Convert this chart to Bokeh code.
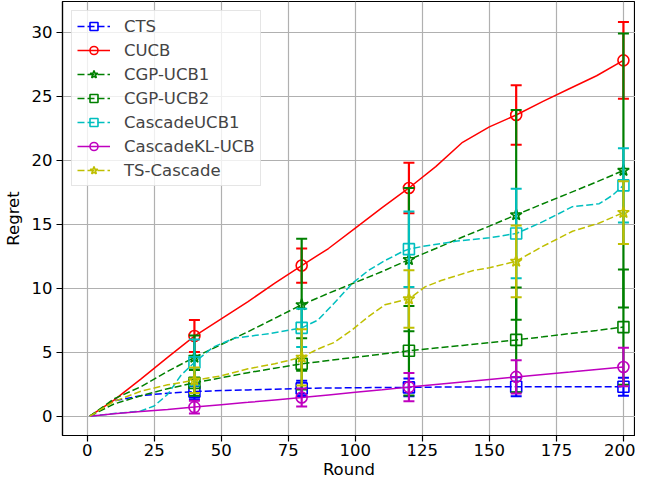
import numpy as np
from bokeh.plotting import figure
from bokeh.models import Range1d, FixedTicker
from bokeh.embed import file_html
from bokeh.resources import INLINE

# ---- data ----
rounds = [1, 10, 20, 30, 40, 50, 60, 70, 80, 90, 100, 110, 120, 130, 140, 150, 160, 170, 180, 190, 200]
cts_vals = [0, 1.2, 1.6, 1.8, 1.92, 2.0, 2.05, 2.1, 2.17, 2.2, 2.22, 2.24, 2.25, 2.27, 2.28, 2.29, 2.3, 2.3, 2.3, 2.3, 2.3]
cucb_vals = [0, 1.25, 2.9, 4.6, 6.26, 7.6, 8.95, 10.4, 11.77, 13.1, 14.7, 16.3, 17.83, 19.5, 21.4, 22.6, 23.53, 24.6, 25.6, 26.6, 27.8]
cgp1_vals = [0, 1.35, 2.3, 3.5, 4.6, 5.6, 6.6, 7.65, 8.7, 9.6, 10.45, 11.3, 12.23, 13.1, 14.0, 14.85, 15.73, 16.6, 17.45, 18.3, 19.2]
cgp2_vals = [0, 0.95, 1.6, 2.15, 2.6, 3.0, 3.4, 3.75, 4.09, 4.35, 4.6, 4.85, 5.11, 5.32, 5.53, 5.75, 5.96, 6.2, 6.45, 6.7, 6.96]
kl_vals = [0, 0.18, 0.36, 0.53, 0.71, 0.9, 1.08, 1.27, 1.46, 1.66, 1.86, 2.06, 2.27, 2.47, 2.67, 2.87, 3.07, 3.26, 3.45, 3.65, 3.84]

cucb1_rounds = [1, 10, 20, 25, 30, 35, 40, 47, 55, 68, 80, 86, 92, 99, 105, 111, 118, 120, 126, 138, 150, 160, 169, 181, 191, 196, 200]
cucb1_vals = [0, 0.2, 0.4, 0.8, 1.7, 3.2, 4.2, 5.4, 6.1, 6.45, 6.9, 7.5, 8.8, 10.4, 11.4, 12.15, 12.9, 13.05, 13.3, 13.68, 13.94, 14.27, 15.1, 16.37, 16.6, 17.27, 18.03]

ts_rounds = [1, 10, 20, 30, 40, 50, 60, 70, 80, 86, 92, 99, 105, 111, 118, 120, 126, 132, 144, 150, 160, 169, 181, 191, 200]
ts_vals = [0, 1.15, 1.95, 2.45, 2.81, 3.15, 3.7, 4.1, 4.6, 5.24, 5.75, 6.78, 7.8, 8.7, 9.08, 9.16, 10.1, 10.6, 11.38, 11.6, 12.1, 13.17, 14.45, 15.09, 15.91]

mark_rounds = [40, 80, 120, 160, 200]
cts_err = [0.6, 0.6, 0.7, 0.75, 0.7]
cucb_err = [1.25, 1.34, 1.98, 2.33, 3.0]
cgp1_err = [1.7, 5.16, 5.6, 8.2, 10.7]
cgp2_err = [1.0, 2.0, 3.5, 4.1, 4.5]
cucb1_err = [1.8, 1.5, 2.95, 3.5, 2.9]
kl_err = [0.5, 0.7, 1.1, 1.3, 1.5]
ts_err = [1.0, 2.2, 2.25, 2.8, 2.45]

x_ticks = [0, 25, 50, 75, 100, 125, 150, 175, 200]
y_ticks = [0, 5, 10, 15, 20, 25, 30]

series = [
    ("CTS", rounds, cts_vals, cts_err, "#0000ff", "square", "7 3"),
    ("CUCB", rounds, cucb_vals, cucb_err, "#ff0000", "circle", "solid"),
    ("CGP-UCB1", rounds, cgp1_vals, cgp1_err, "#008000", "star", "7 3"),
    ("CGP-UCB2", rounds, cgp2_vals, cgp2_err, "#008000", "square", "7 3"),
    ("CascadeUCB1", cucb1_rounds, cucb1_vals, cucb1_err, "#00bfbf", "square", "7 3"),
    ("CascadeKL-UCB", rounds, kl_vals, kl_err, "#bf00bf", "circle", "solid"),
    ("TS-Cascade", ts_rounds, ts_vals, ts_err, "#bfbf00", "star", "7 3"),
]

FONT = "DejaVu Sans"
FS = "16.5px"

p = figure(width=635, height=481, output_backend="svg", toolbar_location=None,
           x_range=Range1d(-9.2, 204.5), y_range=Range1d(-1.51, 32.4),
           min_border_left=57, min_border_right=0, min_border_top=1, min_border_bottom=44)

p.background_fill_color = "white"
p.outline_line_color = "black"
p.outline_line_width = 1.2

for name, xs, ys, err, color, marker, dash in series:
    p.line(xs, ys, line_color=color, line_width=1.5, line_dash=dash, legend_label=name)
    my = np.interp(mark_rounds, xs, ys)
    lo = [m - e for m, e in zip(my, err)]
    hi = [m + e for m, e in zip(my, err)]
    p.segment(x0=mark_rounds, y0=lo, x1=mark_rounds, y1=hi, line_color=color, line_width=2.2)
    p.scatter(mark_rounds, lo, marker="dash", size=11, line_color=color, line_width=2)
    p.scatter(mark_rounds, hi, marker="dash", size=11, line_color=color, line_width=2)
    p.scatter(mark_rounds, list(my), marker=marker, size=11 if marker != "star" else 12,
              line_color=color, fill_color=None, line_width=1.6, legend_label=name)

for ax in (p.xaxis, p.yaxis):
    ax.major_tick_out = 6
    ax.major_tick_in = 0
    ax.minor_tick_out = 0
    ax.minor_tick_in = 0
    ax.axis_line_color = "black"
    ax.axis_line_width = 1.2
    ax.major_tick_line_color = "black"
    ax.major_tick_line_width = 1.2
    ax.major_label_text_font = FONT
    ax.major_label_text_font_size = FS
    ax.major_label_text_color = "black"
    ax.axis_label_text_font = FONT
    ax.axis_label_text_font_size = FS
    ax.axis_label_text_font_style = "normal"
    ax.axis_label_text_color = "black"

p.xaxis.ticker = FixedTicker(ticks=x_ticks)
p.yaxis.ticker = FixedTicker(ticks=y_ticks)
p.xaxis.axis_label = "Round"
p.yaxis.axis_label = "Regret"
p.xaxis.major_label_standoff = 2
p.xaxis.axis_label_standoff = 1
p.yaxis.major_label_standoff = 4
p.yaxis.axis_label_standoff = 6

p.xgrid.ticker = FixedTicker(ticks=x_ticks)
p.ygrid.ticker = FixedTicker(ticks=y_ticks)
for g in (p.xgrid, p.ygrid):
    g.grid_line_color = "#b0b0b0"
    g.grid_line_width = 1.2

lg = p.legend[0]
lg.location = "top_left"
lg.margin = 9
lg.padding = 5
lg.spacing = 4
lg.label_height = 20
lg.glyph_height = 20
lg.glyph_width = 33
lg.label_standoff = 14
lg.label_text_font = FONT
lg.label_text_font_size = FS
lg.border_line_color = "#cccccc"
lg.border_line_width = 1
lg.background_fill_alpha = 0.8

open("out.html", "w").write(file_html(p, INLINE))
